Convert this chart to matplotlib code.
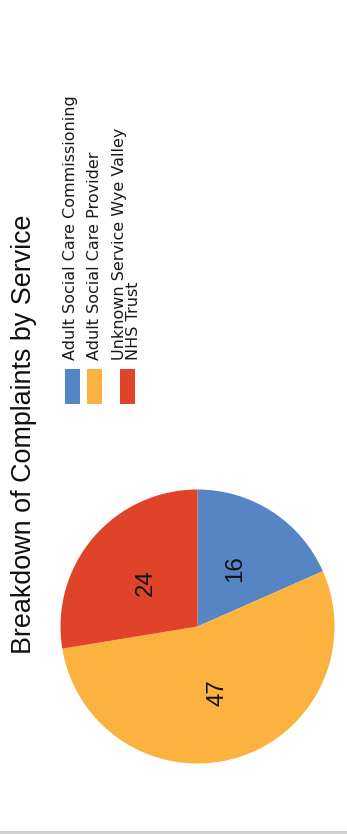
import matplotlib
matplotlib.use("Agg")
import matplotlib.pyplot as plt
from matplotlib.patches import Rectangle
import numpy as np

# Complaint counts by service
services = [
    "Adult Social Care Commissioning",
    "Adult Social Care Provider",
    "Unknown Service Wye Valley\nNHS Trust",
]
complaints = [16, 47, 24]
colors = ["#5585C5", "#FBB23F", "#E04428"]
title = "Breakdown of Complaints by Service"

W, H = 347, 834
fig = plt.figure(figsize=(W / 100, H / 100), dpi=100)
ax = fig.add_axes([0, 0, 1, 1])

# Pie (the whole chart is laid out rotated a quarter turn)
cx, cy, R = 197.5, H - 626.5, 137
wedges, _ = ax.pie(complaints, colors=colors, startangle=90, counterclock=False,
                   center=(cx, cy), radius=R, wedgeprops=dict(linewidth=0))
for w, v in zip(wedges, complaints):
    th = np.deg2rad((w.theta1 + w.theta2) / 2)
    ax.text(cx + 0.5 * R * np.cos(th), cy + 0.5 * R * np.sin(th), str(v),
            rotation=90, ha="center", va="center", fontsize=17.3,
            family="Liberation Sans", color="#111111")

ax.set_xlim(0, W)
ax.set_ylim(0, H)
ax.set_aspect("equal")
ax.axis("off")

# Title
ax.text(24, H - 434, title, rotation=90, ha="center", va="center",
        fontsize=19.4, family="Liberation Sans", color="#111111")

# Legend: colour swatches with rotated labels
swatch_x = [65, 87, 120]
label_x = [71, 95, 126.5]
for sx, lx, c, lab in zip(swatch_x, label_x, colors, services):
    ax.add_patch(Rectangle((sx, H - 404), 15, 35, facecolor=c, edgecolor="none"))
    ax.text(lx, H - 360, lab, rotation=90, ha="center", va="bottom",
            fontsize=11.5, family="DejaVu Sans", color="#1a1a1a",
            linespacing=0.95, multialignment="left")

# Grey rule along the bottom edge
ax.add_patch(Rectangle((0, 0), W, 3.5, facecolor="#d0d0d0", edgecolor="none"))

fig.savefig("out.png", dpi=100)
